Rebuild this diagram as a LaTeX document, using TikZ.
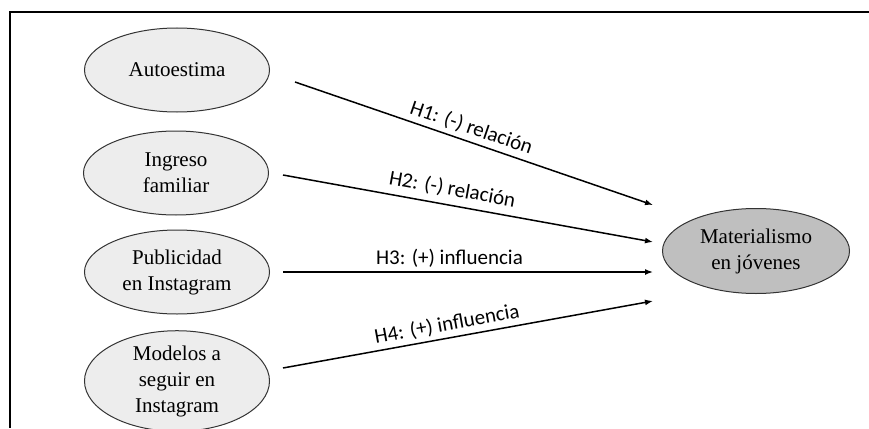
\documentclass[tikz,border=0pt]{standalone}
\usepackage{fontspec}
\setmainfont{Liberation Serif}
\newfontfamily\labfont{Carlito}
\usetikzlibrary{shapes.geometric,arrows.meta}
\definecolor{inell}{HTML}{EDEDED}
\definecolor{outell}{HTML}{BFBFBF}
\definecolor{edge}{HTML}{333333}
\tikzset{
  varell/.style={ellipse, draw=edge, line width=1pt, fill=inell, minimum width=185pt, minimum height=84pt, inner sep=0pt, align=center, font=\fontsize{21}{26}\selectfont},
  depell/.style={varell, fill=outell, minimum width=187pt, minimum height=85pt},
  hyp/.style={line width=1.5pt, -{Latex[length=8pt,width=6pt]}},
  hlab/.style={font=\labfont\fontsize{21}{25}\selectfont, sloped, above, inner sep=4pt}
}
\begin{document}
\begin{tikzpicture}[x=1pt,y=-1pt]
\useasboundingbox (0,0) rectangle (869,428);
\draw[line width=1.6pt] (869,12) -- (10,12) -- (10,428);
\node[varell] (aut) at (177,70) {Autoestima};
\node[varell] (ing) at (176,173) {Ingreso\\familiar};
\node[varell] (pub) at (177,272) {Publicidad\\en Instagram};
\node[varell] (mod) at (177,381) {Modelos a\\seguir en\\Instagram};
\node[depell] (mat) at (756,251) {Materialismo\\en jóvenes};
\coordinate (s1) at (295,82);
\coordinate (s2) at (283,175);
\coordinate (s3) at (283,272);
\coordinate (s4) at (283,368);
\coordinate (e1) at (653,205);
\coordinate (e2) at (653,242);
\coordinate (e3) at (653,272);
\coordinate (e4) at (653,301);
\draw[hyp] (s1) -- node[hlab, pos=0.48] {H1: (-) relación} (e1);
\draw[hyp] (s2) -- node[hlab, pos=0.45, inner sep=6pt] {H2: (-) relación} (e2);
\draw[hyp] (s3) -- node[hlab, pos=0.45] {H3: (+) influencia} (e3);
\draw[hyp] (s4) -- node[hlab, pos=0.45] {H4: (+) influencia} (e4);
\end{tikzpicture}
\end{document}
